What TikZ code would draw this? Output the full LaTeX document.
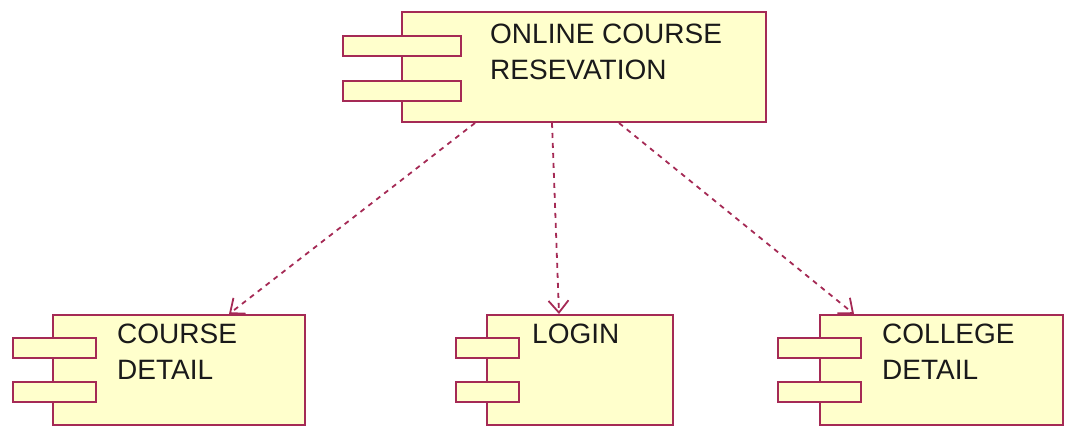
\documentclass[tikz,border=0pt]{standalone}
\usepackage{fontspec}
\setmainfont{Liberation Sans}
\usepackage{tikz}
\usetikzlibrary{arrows.meta, positioning, calc}
\definecolor{roseline}{HTML}{A52A55}
\definecolor{rosefill}{HTML}{FFFFCC}
\definecolor{roseink}{HTML}{1A1A1A}

\begin{document}
\begin{tikzpicture}[x=1pt, y=-1pt,
        body/.style={draw=roseline, fill=rosefill, line width=2pt, minimum height=110pt, inner sep=0pt},
        tab/.style={draw=roseline, fill=rosefill, line width=2pt, minimum height=20pt, inner sep=0pt},
        comptext/.style={font=\fontsize{28}{36}\selectfont, text=roseink, align=left, inner sep=0pt, anchor=north west},
        depend/.style={-{Straight Barb[length=12pt, width=20pt]}, roseline, line width=1.8pt, dash pattern=on 5pt off 5pt}
    ]
        \useasboundingbox (0,0) rectangle (1065,428);

        % top component
        \node (online) [body, minimum width=364pt] at (584,67) {};
        \node (onlinetabA) [tab, minimum width=118pt] at (402,46.5) {};
        \node (onlinetabB) [tab, minimum width=118pt] at (402,90.5) {};
        \node (onlinetxt) [comptext] at (490,24) {ONLINE COURSE\\RESEVATION};

        % bottom components
        \node (course) [body, minimum width=252pt] at (179,370) {};
        \node (coursetabA) [tab, minimum width=83pt] at (54.5,347.5) {};
        \node (coursetabB) [tab, minimum width=83pt] at (54.5,391.5) {};
        \node (coursetxt) [comptext] at (117,324) {COURSE\\DETAIL};

        \node (login) [body, minimum width=186pt] at (580,370) {};
        \node (logintabA) [tab, minimum width=63pt] at (487.5,347.5) {};
        \node (logintabB) [tab, minimum width=63pt] at (487.5,391.5) {};
        \node (logintxt) [comptext] at (532,324) {LOGIN};

        \node (college) [body, minimum width=243pt] at (941.5,370) {};
        \node (collegetabA) [tab, minimum width=83pt] at (819.5,347.5) {};
        \node (collegetabB) [tab, minimum width=83pt] at (819.5,391.5) {};
        \node (collegetxt) [comptext] at (882,324) {COLLEGE\\DETAIL};

        % dependencies
        \draw [depend] ($(online.south west)+(74,0)$) -- ($(course.north west)+(177,0)$);
        \draw [depend] ($(online.south west)+(151,0)$) -- ($(login.north west)+(73,0)$);
        \draw [depend] ($(online.south west)+(218,0)$) -- ($(college.north west)+(35,0)$);
    \end{tikzpicture}
\end{document}
